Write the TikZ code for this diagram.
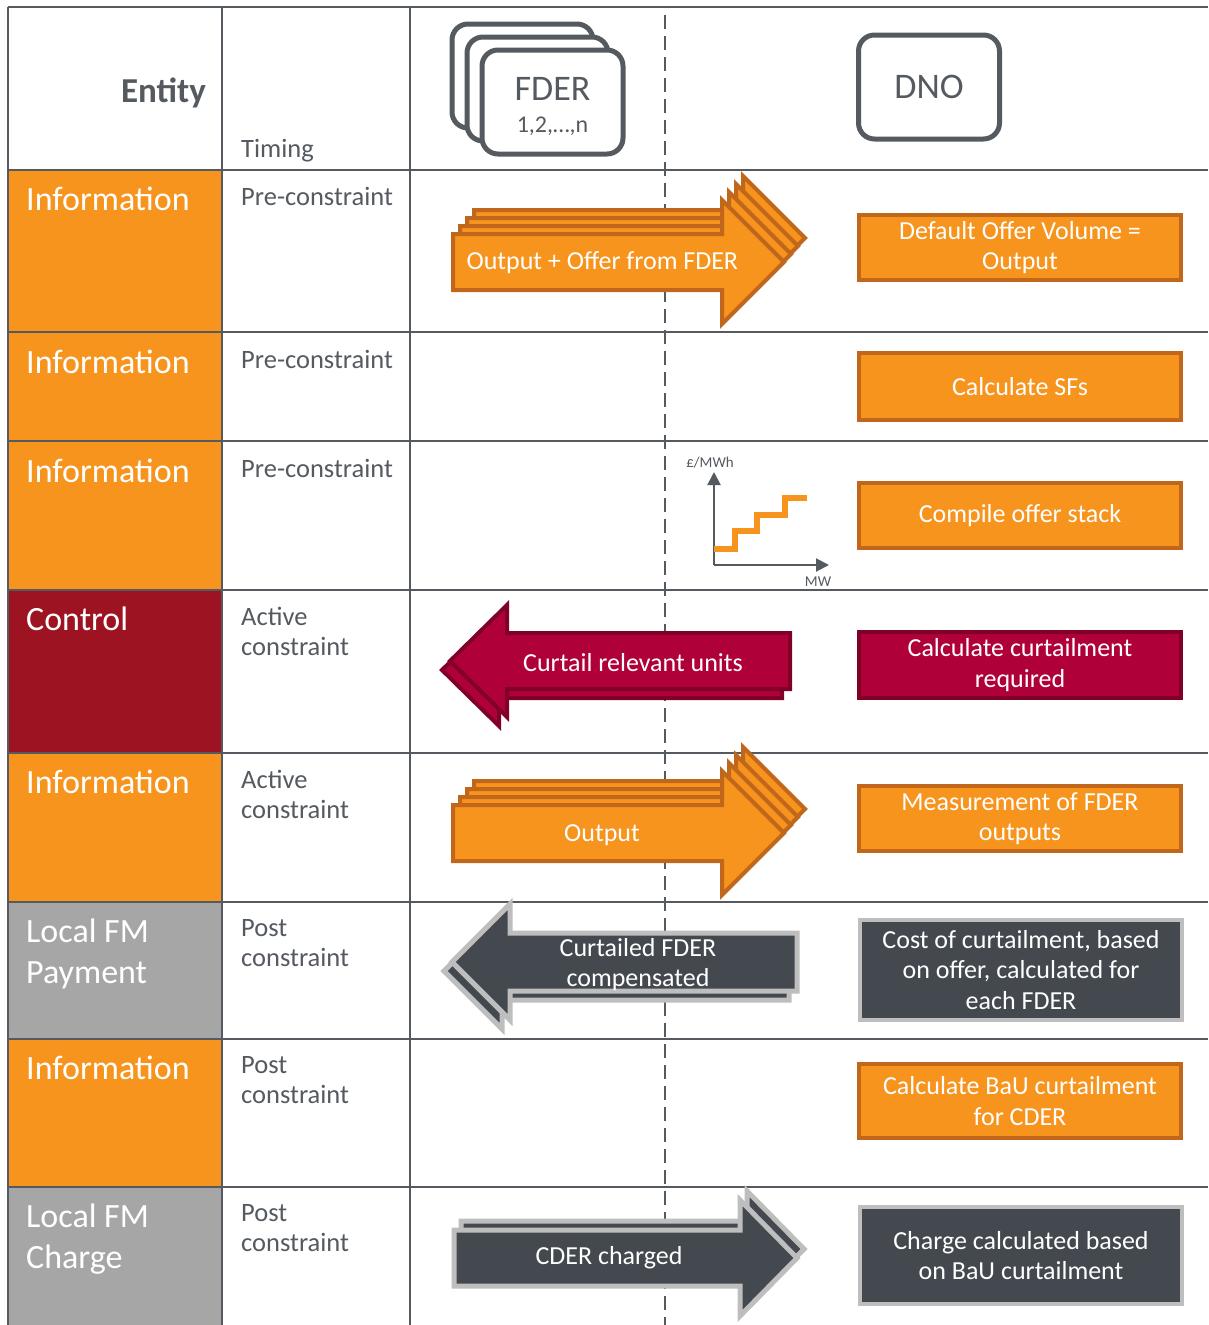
\documentclass[tikz,border=0pt]{standalone}
\usepackage{fontspec}
\setmainfont{Carlito}
\usetikzlibrary{arrows.meta}
\usetikzlibrary{positioning}

\definecolor{fmorange}{RGB}{247,148,30}
\definecolor{fmorangedk}{RGB}{193,103,27}
\definecolor{fmred}{RGB}{176,0,58}
\definecolor{fmreddk}{RGB}{128,0,40}
\definecolor{fmcontrol}{RGB}{157,19,34}
\definecolor{fmslate}{RGB}{68,73,80}
\definecolor{fmgrey}{RGB}{166,166,166}
\definecolor{fmlight}{RGB}{190,190,190}
\definecolor{fmline}{RGB}{84,90,96}

\begin{document}
\begin{tikzpicture} [x=1pt,y=-1pt,
		grid/.style={draw=fmline,line width=2.5pt},
		entlabel/.style={anchor=north west,inner sep=0pt,align=left,text=white,font=\fontsize{34}{41}\selectfont},
		timlabel/.style={anchor=north west,inner sep=0pt,align=left,text=fmline,font=\fontsize{26.5}{30}\selectfont},
		hdrbox/.style={draw=fmline,fill=white,line width=5pt,rounded corners=16pt,minimum width=141pt,minimum height=104pt},
		dnobox/.style={line width=4pt,minimum width=322pt,align=center,text=white,font=\fontsize{26}{30.5}\selectfont},
		orangebox/.style={dnobox,fill=fmorange,draw=fmorangedk},
		redbox/.style={dnobox,fill=fmred,draw=fmreddk},
		slatebox/.style={dnobox,fill=fmslate,draw=fmlight},
		orangearrow/.style={fill=fmorange,draw=fmorangedk,line width=4pt},
		redarrow/.style={fill=fmred,draw=fmreddk,line width=4pt},
		slatearrow/.style={fill=fmslate,draw=fmlight,line width=5pt},
		arrowtext/.style={text=white,align=center,font=\fontsize{26}{30}\selectfont},
		axis/.style={draw=fmline,line width=2pt,-{Triangle[length=13pt,width=13pt]}}]
		
		\useasboundingbox (0,0) rectangle (1208,1325);
		
		% entity cells
		\foreach \top/\bot/\col in {170/332/fmorange, 332/441/fmorange, 441/590/fmorange, 590/753/fmcontrol, 753/902/fmorange, 902/1039/fmgrey, 1039/1187/fmorange, 1187/1325/fmgrey}
		\fill[\col] (8,\top) rectangle (222,\bot);
		
		% grid
		\foreach \y in {7,170,332,441,590,753,902,1039,1187}
		\draw[grid] (8,\y) -- (1208,\y);
		\foreach \x in {8,222,410}
		\draw[grid] (\x,7) -- (\x,1325);
		\draw[draw=fmline,line width=2pt,dash pattern=on 14pt off 7pt] (665,15) -- (665,1325);
		
		% header
		\node[anchor=base east,inner sep=0pt,text=fmline,font=\fontsize{35}{40}\selectfont\bfseries] (entity) at (206,102) {Entity};
		\node[timlabel] (timing) at (241,139) {Timing};
		\foreach \d in {0,1,2}
		\node[hdrbox] (fder\d) at (522.5+15*\d,76+13*\d) {};
		\node[text=fmline,font=\fontsize{36}{40}\selectfont] (fdername) at (552.5,89) {FDER};
		\node[text=fmline,font=\fontsize{24}{28}\selectfont] (fdern) at (552.5,126) {1,2,\dots,n};
		\node[hdrbox,text=fmline,font=\fontsize{36}{40}\selectfont] (dno) at (929,87) {DNO};
		
		% row labels
		\foreach \y/\ent/\tim [count=\i] in {187/Information/Pre-constraint, 350/Information/Pre-constraint, 459/Information/Pre-constraint, 607/Control/{Active\\constraint}, 770/Information/{Active\\constraint}, 919/{Local FM\\Payment}/{Post\\constraint}, 1056/Information/{Post\\constraint}, 1204/{Local FM\\Charge}/{Post\\constraint}}
		{
			\node[entlabel] (ent\i) at (26,\y) {\ent};
			\node[timlabel] (tim\i) at (241,\y) {\tim};
		}
		
		% DNO actions
		\node[orangebox,minimum height=65pt] (dno1) at (1020,247.5) {Default Offer Volume =\\Output};
		\node[orangebox,minimum height=67pt] (dno2) at (1020,386.5) {Calculate SFs};
		\node[orangebox,minimum height=65pt] (dno3) at (1020,515.5) {Compile offer stack};
		\node[redbox,minimum height=66pt] (dno4) at (1020,665) {Calculate curtailment\\required};
		\node[orangebox,minimum height=65pt] (dno5) at (1020,818.5) {Measurement of FDER\\outputs};
		\node[slatebox,minimum height=100pt] (dno6) at (1021,970) {Cost of curtailment, based\\on offer, calculated for\\each FDER};
		\node[orangebox,minimum height=74pt] (dno7) at (1020,1101) {Calculate BaU curtailment\\for CDER};
		\node[slatebox,minimum height=97pt] (dno8) at (1021,1255.5) {Charge calculated based\\on BaU curtailment};
		
		% offer stack
		\coordinate (orig) at (714,565);
		\draw[axis] (orig) -- (714,472);
		\draw[axis] (orig) -- (829,565);
		\node[text=fmline,font=\fontsize{15}{18}\selectfont] (price) at (710,463) {£/MWh};
		\node[text=fmline,font=\fontsize{15}{18}\selectfont] (mw) at (818,582) {MW};
		\draw[fmorange,line width=5.5pt] (714,549) -| (735,531) -| (757,515) -| (785,498) -- (807,498);
		
		% FDER -> DNO flows
		\foreach \d in {3,2,1,0}
		{
			\draw[orangearrow,shift={(7*\d,-8*\d)}] (453,234) -- (722,234) -- (722,200) -- (784,262) -- (722,324) -- (722,290) -- (453,290) -- cycle;
			\draw[orangearrow,shift={(7*\d,-8*\d)}] (453,805) -- (722,805) -- (722,771) -- (784,833) -- (722,895) -- (722,861) -- (453,861) -- cycle;
		}
		\node[arrowtext,anchor=west] (flow1) at (463,263) {Output + Offer from FDER};
		\node[arrowtext] (flow5) at (602,835) {Output};
		
		% DNO -> FDER flows
		\foreach \d in {1,0}
		{
			\draw[redarrow,shift={(-8*\d,9*\d)}] (790,633) -- (507,633) -- (507,605) -- (450,661) -- (507,717) -- (507,689) -- (790,689) -- cycle;
			\draw[slatearrow,shift={(-8*\d,9*\d)}] (797,933) -- (510,933) -- (510,904) -- (452,962) -- (510,1020) -- (510,991) -- (797,991) -- cycle;
			\draw[slatearrow,shift={(7*\d,-9*\d)}] (454,1230) -- (740,1230) -- (740,1200) -- (797,1258) -- (740,1316) -- (740,1286) -- (454,1286) -- cycle;
		}
		\node[arrowtext] (flow4) at (633,663) {Curtail relevant units};
		\node[arrowtext] (flow6) at (638,965) {Curtailed FDER\\compensated};
		\node[arrowtext] (flow8) at (609,1258) {CDER charged};
		
	\end{tikzpicture}
\end{document}
